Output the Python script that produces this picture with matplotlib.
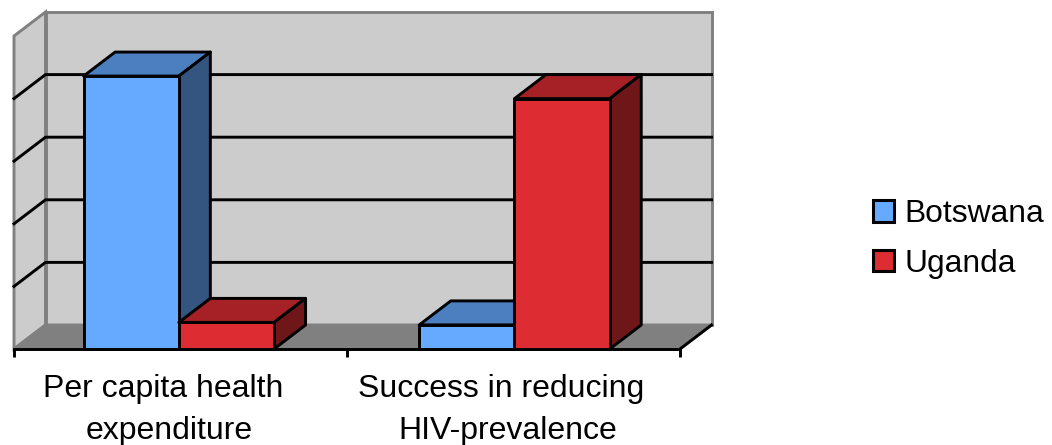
# 3D style clustered columns, drawn by hand on a flat axes
import matplotlib
matplotlib.use("Agg")
import matplotlib.pyplot as plt
from matplotlib.patches import Patch

plt.rcParams['font.family'] = ['Liberation Sans', 'DejaVu Sans']

categories = [["Per capita health", "expenditure"], ["Success in reducing", "HIV-prevalence"]]
series_names = ["Botswana", "Uganda"]
botswana = [87.2, 7.7]
uganda = [8.5, 80]
grid_values = [20, 40, 60, 80]

# front, top, side colours per series
colors = {
    "Botswana": ("#66AAFF", "#4C7FBF", "#335580"),
    "Uganda": ("#DD2C32", "#A52125", "#6F1619"),
}

W, H = 1052, 445
DX = 0.0946   # depth of the box in category units
DY = 7.67     # depth of the box in value units
BAR_W = 0.286
EDGE = 2.1
WALL = "#808080"


def draw_bar(ax, x, value, name):
    front, top, side = colors[name]
    ax.fill([x, x + BAR_W, x + BAR_W + DX, x + DX], [value, value, value + DY, value + DY],
            fc=top, ec="black", lw=EDGE, clip_on=False, joinstyle="round", zorder=3)
    ax.fill([x + BAR_W, x + BAR_W + DX, x + BAR_W + DX, x + BAR_W], [0, DY, value + DY, value],
            fc=side, ec="black", lw=EDGE, clip_on=False, joinstyle="round", zorder=3)
    ax.bar(x, value, width=BAR_W, align="edge", color=front, edgecolor="black", lw=EDGE,
           clip_on=False, zorder=3)


fig = plt.figure(figsize=(W / 100, H / 100), dpi=100)
ax = fig.add_axes([14 / W, (H - 349) / H, 666 / W, 313 / H])
ax.set_xlim(0, 2)
ax.set_ylim(0, 100)
ax.patch.set_visible(False)
for s in ["top", "left", "right"]:
    ax.spines[s].set_visible(False)
ax.spines["bottom"].set_linewidth(EDGE)
ax.spines["bottom"].set_zorder(2)

# Walls and floor
ax.fill([DX, 2 + DX, 2 + DX, DX], [DY, DY, 100 + DY, 100 + DY], fc="#CCCCCC", ec=WALL, lw=EDGE, clip_on=False, zorder=1)
ax.fill([0, DX, DX, 0], [0, DY, 100 + DY, 100], fc="#CCCCCC", ec=WALL, lw=EDGE, clip_on=False, zorder=1)
ax.fill([0, 2, 2 + DX, DX], [0, 0, DY, DY], fc=WALL, ec=WALL, lw=EDGE, clip_on=False, zorder=1)
ax.plot([2, 2 + DX], [0, DY], color="black", lw=EDGE, clip_on=False, zorder=2)

# Gridlines
for v in grid_values:
    ax.plot([0, DX, 2 + DX], [v, v + DY, v + DY], color="black", lw=EDGE, clip_on=False, zorder=2)

# Bars, the groups do not sit quite centred in the reference
group_shift = [-0.005, 0.003]
for i in range(len(categories)):
    left = i + 0.5 - BAR_W + group_shift[i]
    draw_bar(ax, left, botswana[i], "Botswana")
    draw_bar(ax, left + BAR_W, uganda[i], "Uganda")

# Axis ticks and labels
ax.set_yticks([])
ax.set_xticks([0, 1, 2])
ax.set_xticklabels([])
ax.tick_params(axis="x", length=6, width=EDGE, color="black")

label_shift = [[-0.051, -0.034], [-0.0375, -0.0165]]
label_y = [-12.7, -26.2]
for i, rows in enumerate(categories):
    for j, row in enumerate(rows):
        ax.text(i + 0.5 + label_shift[i][j], label_y[j], row, fontsize=23, ha="center", va="center", clip_on=False)

# Legend
handles = [Patch(facecolor=colors[n][0], edgecolor="black", lw=2.2) for n in series_names]
fig.legend(handles, series_names, loc="center left", bbox_to_anchor=(873 / W, (H - 239) / H),
           frameon=False, fontsize=22.9, handlelength=0.66, handleheight=0.66,
           handletextpad=0.33, labelspacing=0.62, borderpad=0, borderaxespad=0)

fig.savefig("out.png", dpi=100)
